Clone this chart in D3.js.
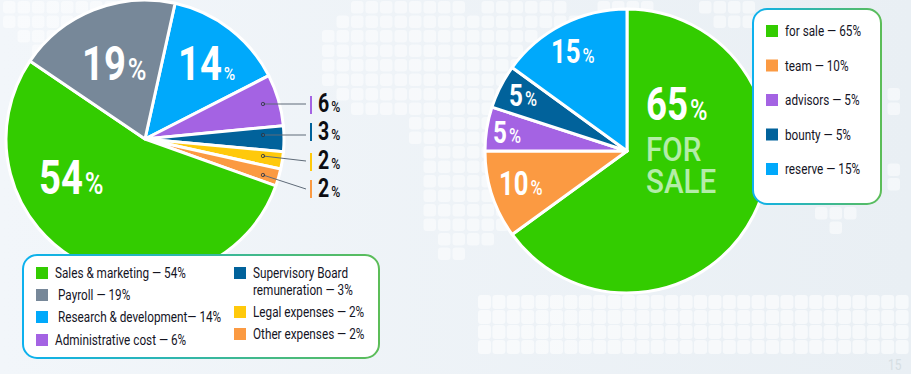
<!DOCTYPE html>
<html>
<head>
<meta charset="utf-8">
<script src="https://cdn.jsdelivr.net/npm/d3@7"></script>
<style>
html, body { margin: 0; padding: 0; background: #eff4f8; overflow: hidden; }
text { font-family: Roboto, "Liberation Sans", sans-serif; }
</style>
</head>
<body>
<div id="chart"></div>
<script>
// left pie, clockwise from the blue slice
const costNames = ["Research & development", "Administrative cost", "Supervisory Board remuneration", "Legal expenses", "Other expenses", "Sales & marketing", "Payroll"];
const costValues = [14, 6, 3, 2, 2, 54, 19];
const costColors = ["#00a9fb", "#a463e3", "#01629b", "#ffc90b", "#fb9a42", "#33cc00", "#778899"];

// right pie, clockwise from the top
const saleNames = ["for sale", "team", "advisors", "bounty", "reserve"];
const saleValues = [65, 10, 5, 5, 15];
const saleColors = ["#33cc00", "#fb9a42", "#a463e3", "#01629b", "#00a9fb"];

const width = 911, height = 374;

const svg = d3.select("#chart").append("svg")
    .attr("width", width)
    .attr("height", height)
    .style("display", "block");

const defs = svg.append("defs");

const bgGrad = defs.append("linearGradient").attr("id", "bg");
bgGrad.append("stop").attr("offset", "0%").attr("stop-color", "#f2f6fa");
bgGrad.append("stop").attr("offset", "100%").attr("stop-color", "#e9eff4");

const borderGrad = defs.append("linearGradient").attr("id", "border");
borderGrad.append("stop").attr("offset", "0%").attr("stop-color", "#0db1ee");
borderGrad.append("stop").attr("offset", "100%").attr("stop-color", "#5cbd58");

svg.append("rect")
    .attr("width", width)
    .attr("height", height)
    .attr("fill", "url(#bg)");

// faint world map made of rounded tiles: [row, first column, last column]
const mapRuns = [
    [0, 0, 8], [1, 0, 7], [2, 1, 5], [3, 2, 4],
    [0, 24, 31], [1, 23, 41], [2, 22, 36], [3, 22, 35], [4, 22, 35], [5, 22, 35], [6, 23, 34], [7, 24, 34],
    [8, 28, 34], [9, 28, 34], [10, 29, 34], [11, 29, 34], [12, 29, 34], [13, 29, 34], [14, 29, 34], [15, 29, 34],
    [16, 30, 33], [17, 30, 31],
    [0, 33, 38], [0, 41, 44], [0, 48, 51], [1, 49, 51],
    [6, 61, 61], [7, 61, 61], [11.2, 61, 61], [12.2, 61, 61],
    [14.2, 56, 58], [15.2, 57, 57]
];
const tiles = mapRuns.flatMap(([row, from, to]) =>
    d3.range(from, to + 1).map(col => ({ row, col })));

const tileX = d3.scaleLinear().domain([0, 1]).range([3, 17.5]);
const tileY = d3.scaleLinear().domain([0, 1]).range([1, 15.5]);

svg.append("g").selectAll("rect")
    .data(tiles)
    .join("rect")
    .attr("x", d => tileX(d.col))
    .attr("y", d => tileY(d.row))
    .attr("width", 12.5)
    .attr("height", 12.5)
    .attr("rx", 3)
    .attr("fill", "#fff")
    .attr("opacity", 0.5);

// the block along the bottom right
const blockCols = d3.range(0, 30);
const blockRows = d3.range(0, 4);
const blockX = d3.scaleLinear().domain([0, 1]).range([478, 492.4]);
const blockY = d3.scaleLinear().domain([0, 1]).range([295, 310]);

svg.append("g").selectAll("rect")
    .data(blockRows.flatMap(row => blockCols.map(col => ({ row, col }))))
    .join("rect")
    .attr("x", d => blockX(d.col))
    .attr("y", d => blockY(d.row))
    .attr("width", 13)
    .attr("height", 14)
    .attr("rx", 3)
    .attr("fill", "#fff")
    .attr("opacity", 0.6);

// narrow text: no condensed face is installed, so squeeze a normal one
function narrowText(x, y, sx) {
    return svg.append("text")
        .attr("transform", `translate(${x},${y}) scale(${sx},1)`);
}

narrowText(888, 370, 0.8)
    .attr("font-size", 15)
    .attr("fill", "#d6dee3")
    .text("15");

function drawPie(cx, cy, radius, values, colors, startDeg) {
    const start = startDeg * Math.PI / 180;
    const pie = d3.pie().sort(null).startAngle(start).endAngle(start + 2 * Math.PI);
    const arc = d3.arc().innerRadius(0).outerRadius(radius);

    svg.append("g")
        .attr("transform", `translate(${cx},${cy})`)
        .selectAll("path")
        .data(pie(values))
        .join("path")
        .attr("d", arc)
        .attr("fill", (d, i) => colors[i])
        .attr("stroke", "#fff")
        .attr("stroke-width", 3)
        .attr("stroke-linejoin", "round");
}

drawPie(145, 139, 139, costValues, costColors, 12.5);

// number and percent sign are separate texts, each squeezed by its own amount
function valueLabel(x, y, value, size, pctSize, color) {
    const digits = narrowText(x, y, 0.78)
        .attr("fill", color)
        .attr("font-weight", "bold")
        .attr("font-size", size)
        .text(value);
    const digitsWidth = digits.node().getComputedTextLength() * 0.78;
    narrowText(x + digitsWidth + 2, y, 0.82)
        .attr("fill", color)
        .attr("font-weight", 500)
        .attr("font-size", pctSize)
        .text("%");
}

valueLabel(39, 194, costValues[5], 49, 31, "#fff");
valueLabel(82, 80, costValues[6], 49, 31, "#fff");
valueLabel(178, 80, costValues[0], 49, 19, "#fff");

// small slices get leader lines out to the right
const leaderRows = [
    { i: 1, dotY: 104, endY: 104, barY: 96, textY: 112 },
    { i: 2, dotY: 135, endY: 135, barY: 123, textY: 140 },
    { i: 3, dotY: 156, endY: 161, barY: 153, textY: 169 },
    { i: 4, dotY: 175, endY: 189, barY: 180, textY: 197 }
];

const leaders = svg.append("g");
leaderRows.forEach(r => {
    leaders.append("line")
        .attr("x1", 263).attr("y1", r.dotY)
        .attr("x2", 306).attr("y2", r.endY)
        .attr("stroke", "#5f6b78")
        .attr("stroke-width", 1);
    leaders.append("circle")
        .attr("cx", 263).attr("cy", r.dotY)
        .attr("r", 1.7)
        .attr("fill", "none")
        .attr("stroke", "#2d3340")
        .attr("stroke-width", 0.8);
    leaders.append("rect")
        .attr("x", 310).attr("y", r.barY)
        .attr("width", 2).attr("height", 18)
        .attr("fill", costColors[r.i]);
    valueLabel(318, r.textY, costValues[r.i], 25, 15, "#0d0d12");
});

drawPie(627, 151, 142, saleValues, saleColors, 0);

valueLabel(646, 120, saleValues[0], 47, 29, "#fff");
valueLabel(551, 63, saleValues[4], 33, 20, "#fff");
valueLabel(509, 106, saleValues[3], 31, 20, "#fff");
valueLabel(493, 143, saleValues[2], 31, 20, "#fff");
valueLabel(499, 195, saleValues[1], 33, 20, "#fff");

["FOR", "SALE"].forEach((word, i) => {
    narrowText(646, 161 + i * 32, 0.87)
        .attr("font-size", 34)
        .attr("font-weight", 500)
        .attr("fill", "#b4eda8")
        .text(word);
});

function legendBox(x, y, w, h) {
    svg.append("rect")
        .attr("x", x).attr("y", y)
        .attr("width", w).attr("height", h)
        .attr("rx", 14)
        .attr("fill", "#fff")
        .attr("stroke", "url(#border)")
        .attr("stroke-width", 2);
}

function legendRow(x, y, textX, color, lines) {
    svg.append("rect")
        .attr("x", x).attr("y", y)
        .attr("width", 12).attr("height", 12)
        .attr("fill", color);
    lines.forEach((line, i) => {
        narrowText(textX, y + 11 + i * 17, 0.84)
            .attr("font-size", 14)
            .attr("fill", "#14141f")
            .text(line);
    });
}

legendBox(23, 255, 356, 103);
legendRow(36, 267, 55, costColors[5], [`Sales & marketing — ${costValues[5]}%`]);
legendRow(36, 289, 58, costColors[6], [`Payroll — ${costValues[6]}%`]);
legendRow(36, 311, 58, costColors[0], [`Research & development— ${costValues[0]}%`]);
legendRow(36, 334, 55, costColors[1], [`Administrative cost — ${costValues[1]}%`]);
legendRow(234, 267, 253, costColors[2], ["Supervisory Board", `remuneration — ${costValues[2]}%`]);
legendRow(234, 306, 253, costColors[3], [`Legal expenses — ${costValues[3]}%`]);
legendRow(234, 328, 253, costColors[4], [`Other expenses — ${costValues[4]}%`]);

legendBox(753, 9, 128, 195);
const saleRowY = d3.scalePoint().domain(saleNames).range([25, 163]);
saleNames.forEach((name, i) => {
    legendRow(766, saleRowY(name), 785, saleColors[i], [`${name} — ${saleValues[i]}%`]);
});
</script>
</body>
</html>
